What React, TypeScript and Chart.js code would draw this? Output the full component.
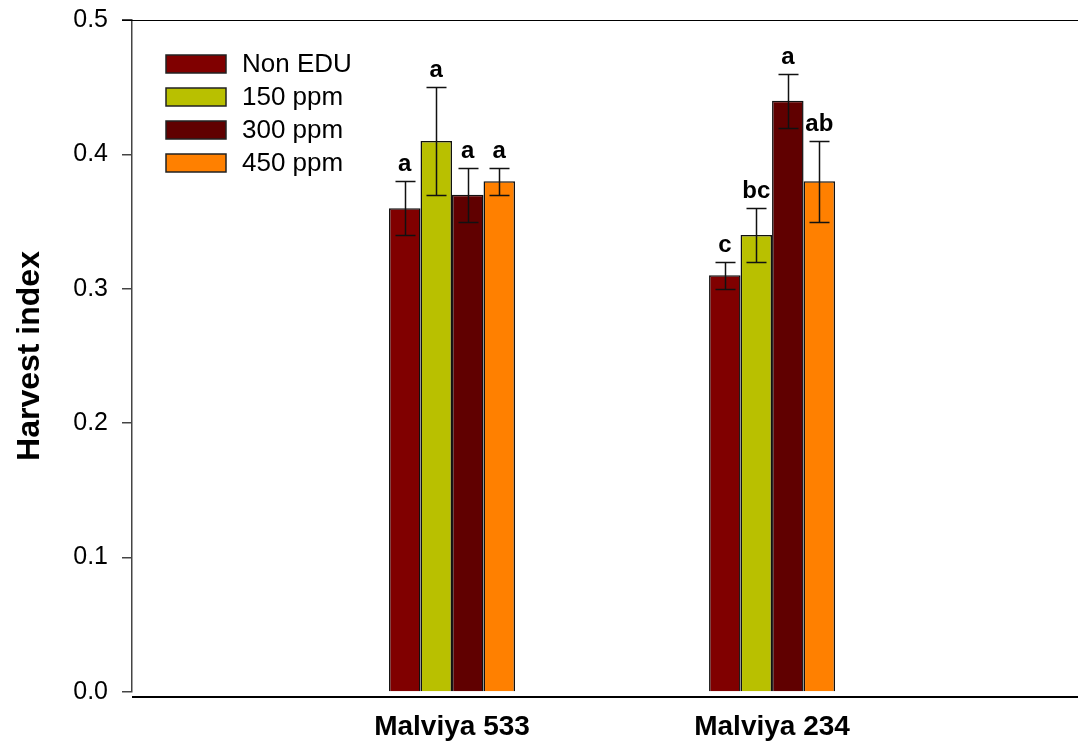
import React, { useEffect, useRef } from "react";
import { Chart, registerables } from "chart.js";

Chart.register(...registerables);

// Cultivars on the x axis
const categories = ["Malviya 533", "Malviya 234"];

// Treatments
const seriesNames = ["Non EDU", "150 ppm", "300 ppm", "450 ppm"];

// Harvest index means per cultivar
const nonEdu = [0.36, 0.31];
const ppm150 = [0.41, 0.34];
const ppm300 = [0.37, 0.44];
const ppm450 = [0.38, 0.38];

// Standard errors
const errNonEdu = [0.02, 0.01];
const err150 = [0.04, 0.02];
const err300 = [0.02, 0.02];
const err450 = [0.01, 0.03];

// Significance letters
const letNonEdu = ["a", "c"];
const let150 = ["a", "bc"];
const let300 = ["a", "a"];
const let450 = ["a", "ab"];

// Y axis ticks
const yTicks = [0, 0.1, 0.2, 0.3, 0.4, 0.5];

const colors = ["#800000", "#b9c000", "#600000", "#ff8000"];

const FONT = "'Liberation Sans', Arial, sans-serif";

const values = [nonEdu, ppm150, ppm300, ppm450];
const errors = [errNonEdu, err150, err300, err450];
const letters = [letNonEdu, let150, let300, let450];

const decorPlugin = {
  id: "decor",
  afterDatasetsDraw(chart: any) {
    const ctx = chart.ctx;
    const y = chart.scales.y;
    ctx.save();
    chart.data.datasets.forEach((ds: any, di: number) => {
      const meta = chart.getDatasetMeta(di);
      meta.data.forEach((bar: any, j: number) => {
        const v = ds.data[j].y;
        const e = ds.errors[j];
        const yTop = Math.round(y.getPixelForValue(v + e)) + 0.5;
        const yBot = Math.round(y.getPixelForValue(v - e)) + 0.5;
        const cx = Math.round(bar.x) + 0.5;
        ctx.strokeStyle = "#111";
        ctx.lineWidth = 1.5;
        ctx.beginPath();
        ctx.moveTo(cx, yTop);
        ctx.lineTo(cx, yBot);
        ctx.moveTo(cx - 10, yTop);
        ctx.lineTo(cx + 10, yTop);
        ctx.moveTo(cx - 10, yBot);
        ctx.lineTo(cx + 10, yBot);
        ctx.stroke();
        ctx.fillStyle = "#000";
        ctx.font = `bold 24px ${FONT}`;
        ctx.textAlign = "center";
        ctx.textBaseline = "alphabetic";
        ctx.fillText(ds.letters[j], bar.x, yTop - 11);
      });
    });
    ctx.restore();
  },
  afterDraw(chart: any) {
    const ctx = chart.ctx;
    const area = chart.chartArea;
    ctx.save();
    // bottom axis line, set slightly below the zero baseline
    ctx.strokeStyle = "#000";
    ctx.lineWidth = 2;
    ctx.beginPath();
    ctx.moveTo(area.left, area.bottom + 5);
    ctx.lineTo(chart.width, area.bottom + 5);
    ctx.stroke();
    // top frame line
    ctx.lineWidth = 1.2;
    ctx.beginPath();
    ctx.moveTo(area.left - 10, area.top + 0.5);
    ctx.lineTo(area.right, area.top + 0.5);
    ctx.stroke();

    // legend
    chart.data.datasets.forEach((ds: any, i: number) => {
      const bx = 166;
      const by = 55 + i * 33;
      ctx.fillStyle = ds.backgroundColor;
      ctx.fillRect(bx, by, 60, 18);
      ctx.strokeStyle = "#222";
      ctx.lineWidth = 1.5;
      ctx.strokeRect(bx, by, 60, 18);
      ctx.fillStyle = "#000";
      ctx.font = `26px ${FONT}`;
      ctx.textAlign = "left";
      ctx.textBaseline = "middle";
      ctx.fillText(ds.label, 242, by + 10);
    });
    ctx.restore();
  },
};

export default function App() {
  const canvasRef = useRef<HTMLCanvasElement | null>(null);

  useEffect(() => {
    const canvas = canvasRef.current;
    if (!canvas) return;
    const chart = new Chart(canvas, {
      type: "bar",
      data: {
        datasets: seriesNames.map((name, i) => ({
          label: name,
          data: values[i].map((v, j) => ({ x: j + 1, y: v })),
          errors: errors[i],
          letters: letters[i],
          backgroundColor: colors[i],
          borderColor: "#111",
          borderWidth: 1.5,
          categoryPercentage: 0.39375,
          barPercentage: 1,
        })) as any,
      },
      options: {
        responsive: false,
        animation: false,
        devicePixelRatio: 1,
        layout: { padding: { top: 20, right: 0, left: 0, bottom: 0 } },
        plugins: {
          legend: { display: false },
          tooltip: { enabled: false },
        },
        scales: {
          x: {
            type: "linear",
            min: 0,
            max: 2.956,
            offset: false,
            bounds: "data",
            afterBuildTicks: (s: any) => {
              s.ticks = categories.map((_, i) => ({ value: i + 1 }));
            },
            afterFit: (s: any) => {
              s.height = 55;
            },
            ticks: {
              callback: (v: any) => categories[Number(v) - 1] ?? "",
              font: { family: FONT, size: 28, weight: "bold" },
              color: "#000",
              padding: 18,
              maxRotation: 0,
              autoSkip: false,
            },
            grid: { display: false, drawTicks: false, offset: false },
            border: { display: false },
          },
          y: {
            min: 0,
            max: 0.5,
            afterBuildTicks: (s: any) => {
              s.ticks = yTicks.map((v) => ({ value: v }));
            },
            afterFit: (s: any) => {
              s.width = 132;
              s.paddingTop = 0;
              s.paddingBottom = 0;
            },
            ticks: {
              callback: (v: any) => Number(v).toFixed(1),
              font: { family: FONT, size: 25 },
              color: "#000",
              padding: 14,
            },
            grid: {
              display: true,
              drawOnChartArea: false,
              drawTicks: true,
              tickLength: 10,
              color: "#444",
              lineWidth: 1.5,
            },
            border: { display: true, color: "#444", width: 1.5 },
            title: {
              display: true,
              text: "Harvest index",
              font: { family: FONT, size: 32, weight: "bold" },
              color: "#000",
              padding: { top: 11, bottom: 0 },
            },
          },
        },
      },
      plugins: [decorPlugin],
    });
    return () => chart.destroy();
  }, []);

  return (
    <div style={{ position: "fixed", left: 0, top: 0, width: 1078, height: 747, background: "#fff" }}>
      <canvas ref={canvasRef} width={1078} height={747} style={{ display: "block" }} />
    </div>
  );
}
